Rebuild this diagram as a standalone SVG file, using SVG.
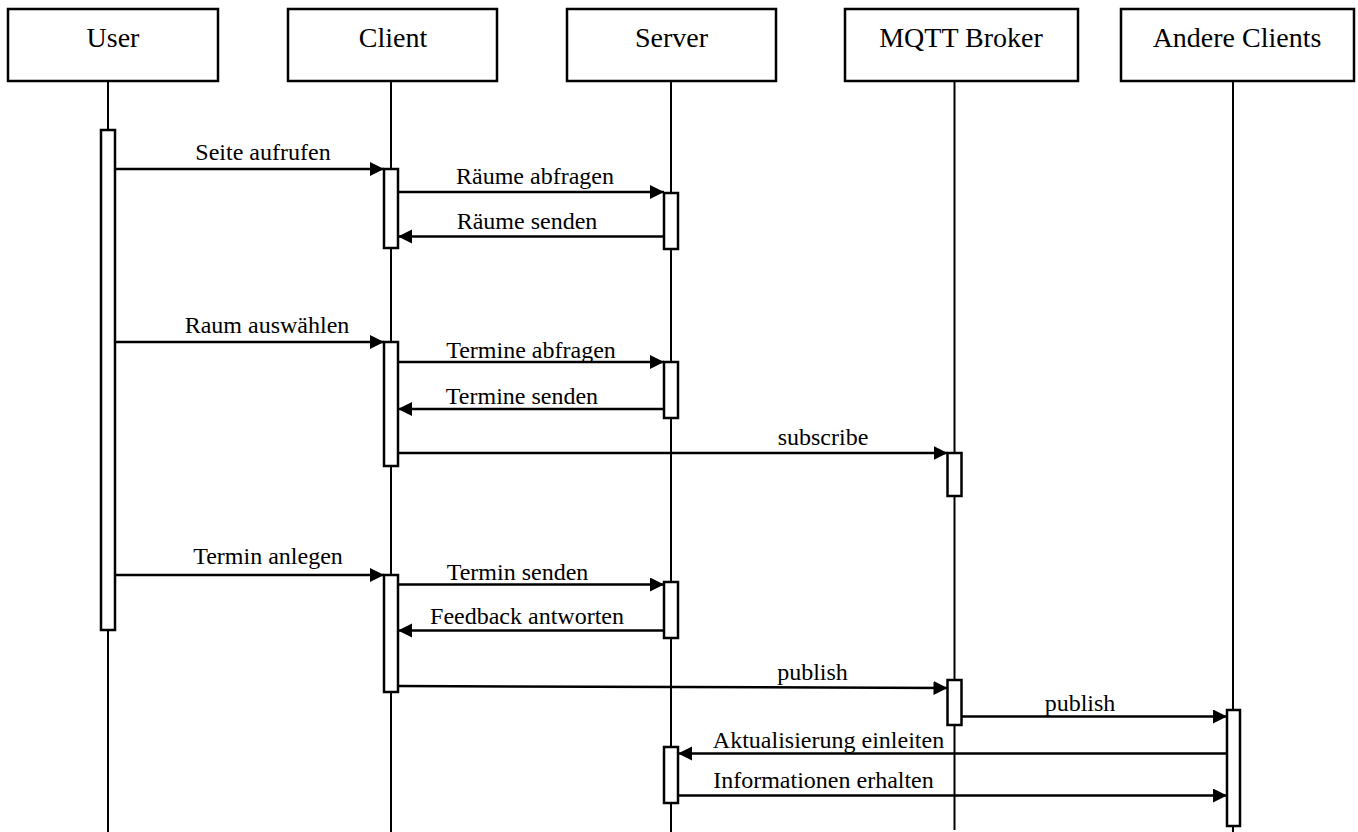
<svg xmlns="http://www.w3.org/2000/svg" width="1358" height="832" viewBox="0 0 1358 832">
  <style>
    .box { fill: #ffffff; stroke: #000000; stroke-width: 2.5; }
    .life { stroke: #000000; stroke-width: 2; fill: none; }
    .act { fill: #ffffff; stroke: #000000; stroke-width: 2.5; }
    .head { font-family: "Liberation Serif", "Times New Roman", serif; font-size: 28px; fill: #000000; text-anchor: middle; }
    .msg { stroke: #000000; stroke-width: 2.5; fill: none; marker-end: url(#arrow); }
    .lbl { font-family: "Liberation Serif", "Times New Roman", serif; font-size: 24px; fill: #000000; text-anchor: middle; }
  </style>
  <defs>
    <marker id="arrow" markerUnits="userSpaceOnUse" markerWidth="15" markerHeight="15" refX="14" refY="7" orient="auto">
      <path d="M0,0 L14,7 L0,14 Z" fill="#000000"/>
    </marker>
  </defs>
  <rect width="1358" height="832" fill="#ffffff"/>

  <!-- lifelines (drawn first, behind bars) -->
  <g id="lifelines">
    <line class="life" x1="108" y1="81" x2="108" y2="832"/>
    <line class="life" x1="391" y1="81" x2="391" y2="832"/>
    <line class="life" x1="671" y1="81" x2="671" y2="832"/>
    <line class="life" x1="954.5" y1="81" x2="954.5" y2="830"/>
    <line class="life" x1="1233" y1="81" x2="1233" y2="832"/>
  </g>

  <g id="user">
    <rect class="box" x="8" y="9" width="210" height="72"/>
    <text class="head" x="113" y="47">User</text>
    <rect class="act" x="101" y="130" width="14" height="500"/>
  </g>

  <g id="client">
    <rect class="box" x="288" y="9" width="209" height="72"/>
    <text class="head" x="393" y="47">Client</text>
    <rect class="act" x="384" y="169" width="14" height="79"/>
    <rect class="act" x="384" y="342" width="14" height="124"/>
    <rect class="act" x="384" y="575" width="14" height="117"/>
  </g>

  <g id="server">
    <rect class="box" x="567" y="9" width="209" height="72"/>
    <text class="head" x="671.5" y="47">Server</text>
    <rect class="act" x="664" y="193" width="14" height="56"/>
    <rect class="act" x="664" y="362" width="14" height="56"/>
    <rect class="act" x="664" y="582" width="14" height="56"/>
    <rect class="act" x="664" y="747" width="14" height="56"/>
  </g>

  <g id="mqtt-broker">
    <rect class="box" x="845" y="9" width="233" height="72"/>
    <text class="head" x="961" y="47">MQTT Broker</text>
    <rect class="act" x="947.5" y="453" width="14" height="43"/>
    <rect class="act" x="947.5" y="680" width="14" height="45"/>
  </g>

  <g id="andere-clients">
    <rect class="box" x="1121" y="9" width="233" height="72"/>
    <text class="head" x="1237" y="47">Andere Clients</text>
    <rect class="act" x="1227" y="710" width="13" height="116"/>
  </g>

  <g id="connectors">
    <line class="msg" x1="115" y1="169" x2="384" y2="169"/>
    <text class="lbl" x="263" y="160">Seite aufrufen</text>

    <line class="msg" x1="398" y1="192" x2="664" y2="192"/>
    <text class="lbl" x="535" y="184">Räume abfragen</text>

    <line class="msg" x1="664" y1="236.5" x2="398" y2="236.5"/>
    <text class="lbl" x="527" y="229">Räume senden</text>

    <line class="msg" x1="115" y1="342" x2="384" y2="342"/>
    <text class="lbl" x="267" y="333">Raum auswählen</text>

    <line class="msg" x1="398" y1="362" x2="664" y2="362"/>
    <text class="lbl" x="531" y="358">Termine abfragen</text>

    <line class="msg" x1="664" y1="409" x2="398" y2="409"/>
    <text class="lbl" x="522" y="404">Termine senden</text>

    <line class="msg" x1="398" y1="453" x2="947.5" y2="453"/>
    <text class="lbl" x="823" y="445">subscribe</text>

    <line class="msg" x1="115" y1="575" x2="384" y2="575"/>
    <text class="lbl" x="268" y="564">Termin anlegen</text>

    <line class="msg" x1="398" y1="584.5" x2="664" y2="584.5"/>
    <text class="lbl" x="517.5" y="580">Termin senden</text>

    <line class="msg" x1="664" y1="630.5" x2="398" y2="630.5"/>
    <text class="lbl" x="527" y="624">Feedback antworten</text>

    <line class="msg" x1="398" y1="686" x2="947.5" y2="688"/>
    <text class="lbl" x="812.5" y="680">publish</text>

    <line class="msg" x1="961.5" y1="716.5" x2="1227" y2="716.5"/>
    <text class="lbl" x="1080" y="711">publish</text>

    <line class="msg" x1="1227" y1="753.5" x2="678" y2="753.5"/>
    <text class="lbl" x="828.5" y="748">Aktualisierung einleiten</text>

    <line class="msg" x1="678" y1="795.5" x2="1227" y2="795.5"/>
    <text class="lbl" x="823.5" y="788">Informationen erhalten</text>
  </g>
</svg>
